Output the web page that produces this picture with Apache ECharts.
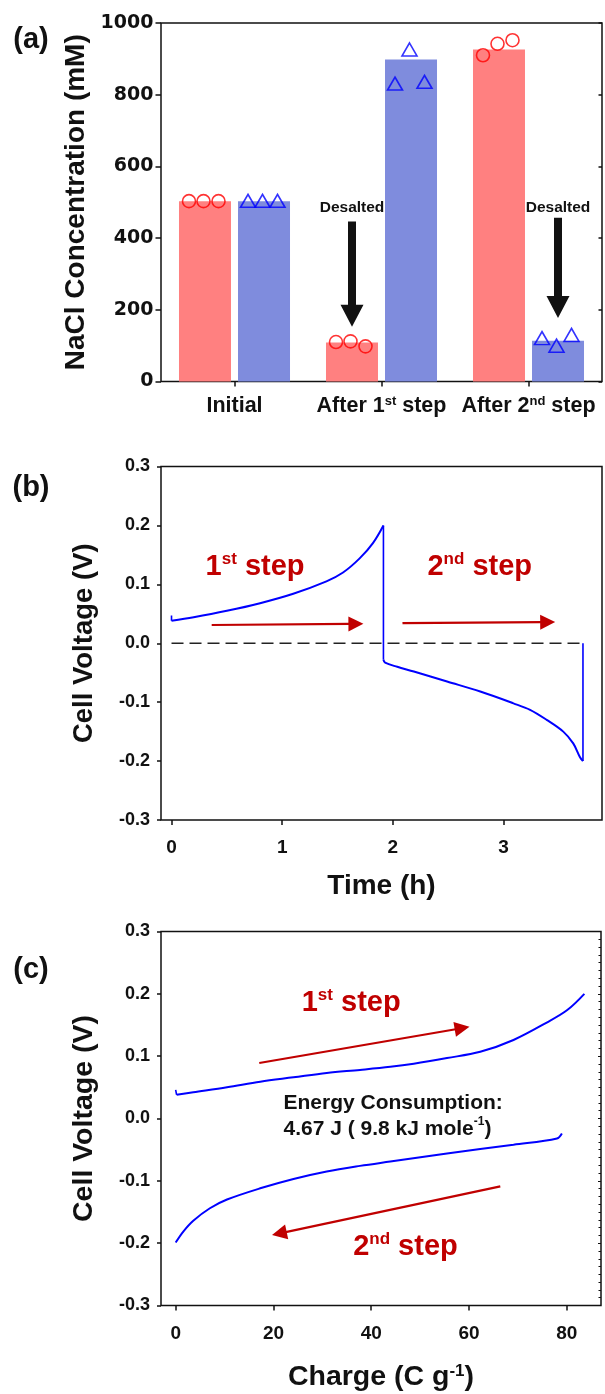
<!DOCTYPE html>
<html lang="en">
<head>
<meta charset="UTF-8">
<title>NaCl concentration and cell voltage</title>
<style>
  html, body { margin: 0; padding: 0; background: #fff; }
  #chart { width: 605px; height: 1394px; }
</style>
</head>
<body>
<div id="chart"></div>
<script src="https://cdn.jsdelivr.net/npm/echarts@6/dist/echarts.min.js"></script>
<script>
// ---- (a) NaCl concentration ----
const stages = ['Initial', 'After 1st step', 'After 2nd step'];
const redBar = [503, 109, 926];
const blueBar = [503, 898, 114];
const redPts = [[503, 503, 503], [110, 112, 98], [910, 942, 952]];
const bluePts = [[504, 504, 504], [831, 926, 836], [121, 100, 130]];

// ---- (b) voltage vs time ----
const time1 = [0, 0.2, 0.5, 0.8, 1.1, 1.4, 1.55, 1.7, 1.82, 1.915];
const volt1 = [0.038, 0.044, 0.055, 0.068, 0.084, 0.105, 0.120, 0.144, 0.170, 0.200];
const time2 = [1.915, 1.93, 2.04, 2.19, 2.49, 2.79, 3.09, 3.24, 3.39, 3.54, 3.63, 3.69, 3.718];
const volt2 = [-0.028, -0.033, -0.040, -0.048, -0.065, -0.082, -0.102, -0.113, -0.130, -0.150, -0.170, -0.193, -0.200];
const timeTicks = [0, 1, 2, 3];

// ---- (c) voltage vs charge ----
const charge1 = [0.2, 3.6, 10.5, 17.3, 24.1, 30.9, 37.7, 43.9, 48.7, 55.5, 62.3, 69.1, 75.9, 80.1, 83.6];
const cvolt1 = [0.038, 0.042, 0.050, 0.059, 0.066, 0.073, 0.078, 0.083, 0.088, 0.097, 0.107, 0.126, 0.154, 0.174, 0.200];
const charge2 = [0, 1.6, 3.6, 7.0, 10.5, 17.3, 24.1, 30.9, 37.7, 43.9, 55.5, 69.1, 78.0, 79.0];
const cvolt2 = [-0.199, -0.181, -0.164, -0.144, -0.130, -0.112, -0.097, -0.085, -0.076, -0.069, -0.056, -0.042, -0.032, -0.024];
const chargeTicks = [0, 20, 40, 60, 80];

const AR = '"Liberation Sans", Arial, Helvetica, sans-serif';
const DV = '"DejaVu Sans", Verdana, sans-serif';
const INK = '#111';
const RED = '#c00000';
const BLUE = '#0000ff';

const BAR_W = 52, BAR_GAP = 7;
const barShift = (BAR_W + BAR_GAP) / 2;
const ptShift = [-16, -1.5, 13.5];

let chart = echarts.init(document.getElementById('chart'), null, { renderer: 'canvas' });

function zip(xs, ys) { return xs.map((x, i) => [x, ys[i]]); }
function supText(s, main, sup) {
  // "After 1st step" -> rich text with superscript suffix
  return s.replace(/^(.*?\d)(st|nd|rd|th)(.*)$/, '{' + main + '|$1}{' + sup + '|$2}{' + main + '|$3}')
    .replace(/^([^{].*)$/, '{' + main + '|$1}');
}
function scatterData(pts, side) {
  let out = [];
  pts.forEach((grp, i) => grp.forEach((v, k) => {
    out.push({ value: [i, v], symbolOffset: [side * barShift + ptShift[k], 0] });
  }));
  return out;
}
function seg(x, y, data, width, extra) {
  return Object.assign({
    type: 'line', xAxisIndex: x, yAxisIndex: y, data: data, showSymbol: false, symbol: 'none',
    lineStyle: { color: BLUE, width: width }, animation: false, silent: true
  }, extra || {});
}

const gridBase = { show: true, borderColor: INK, borderWidth: 1.5, backgroundColor: 'transparent', outerBoundsMode: 'none', containLabel: false };
const tickStyle = { color: INK, width: 1.5 };
const noLine = { show: false, onZero: false };
const numLabel = (size, margin, fam) => ({ color: INK, fontFamily: fam || AR, fontWeight: 'bold', fontSize: size, lineHeight: size + 2, margin: margin });
const oneDec = v => (Math.abs(v) < 1e-9 ? 0 : v).toFixed(1);
const titleStyle = size => ({ color: INK, fontFamily: AR, fontWeight: 'bold', fontSize: size, lineHeight: 30 });

let option = {
  animation: false,
  backgroundColor: '#fff',
  grid: [
    Object.assign({ left: 161, top: 23, right: 3, height: 358.5 }, gridBase),
    Object.assign({ left: 161, top: 466.5, right: 3, height: 353.5 }, gridBase),
    Object.assign({ left: 161, top: 931.5, right: 4, height: 374 }, gridBase)
  ],
  xAxis: [
    {
      type: 'category', gridIndex: 0, data: stages,
      axisLine: noLine,
      axisTick: { show: true, alignWithLabel: true, length: 5, lineStyle: tickStyle },
      axisLabel: {
        interval: 0, margin: 13, color: INK,
        formatter: v => supText(v, 'a', 's'),
        rich: {
          a: { fontFamily: AR, fontWeight: 'bold', fontSize: 21.5, lineHeight: 24, color: INK },
          s: { fontFamily: AR, fontWeight: 'bold', fontSize: 13, lineHeight: 14, color: INK, verticalAlign: 'top' }
        }
      },
      splitLine: { show: false }
    },
    {
      type: 'value', gridIndex: 1, min: -0.095, max: 3.89,
      axisLine: noLine,
      axisTick: { show: true, length: 5, lineStyle: tickStyle, customValues: timeTicks },
      axisLabel: Object.assign(numLabel(19, 17), { customValues: timeTicks }),
      splitLine: { show: false },
      name: 'Time (h)', nameLocation: 'middle', nameGap: 51, nameMoveOverlap: false, nameTextStyle: titleStyle(28)
    },
    {
      type: 'value', gridIndex: 2, min: -3, max: 87,
      axisLine: noLine,
      axisTick: { show: true, length: 5, lineStyle: tickStyle, customValues: chargeTicks },
      axisLabel: Object.assign(numLabel(19, 18), { customValues: chargeTicks }),
      splitLine: { show: false },
      name: '{t|Charge (C g}{s|-1}{t|)}', nameLocation: 'middle', nameGap: 57, nameMoveOverlap: false,
      nameTextStyle: {
        rich: {
          t: { color: INK, fontFamily: AR, fontWeight: 'bold', fontSize: 28.5, lineHeight: 30 },
          s: { color: INK, fontFamily: AR, fontWeight: 'bold', fontSize: 17, lineHeight: 17, verticalAlign: 'top' }
        }
      }
    }
  ],
  yAxis: [
    {
      type: 'value', gridIndex: 0, min: 0, max: 1000, interval: 200,
      axisLine: noLine,
      axisTick: { show: true, length: 5.5, lineStyle: tickStyle },
      axisLabel: Object.assign(numLabel(19, 7.5, DV), { formatter: v => String(v) }),
      splitLine: { show: false },
      name: 'NaCl Concentration (mM)', nameLocation: 'middle', nameGap: 70, nameMoveOverlap: false,
      nameTextStyle: titleStyle(28)
    },
    {
      type: 'value', gridIndex: 0, position: 'right', min: 0, max: 1000, interval: 200,
      axisLine: noLine,
      axisTick: { show: true, inside: true, length: 3.5, lineStyle: tickStyle },
      axisLabel: { show: false }, splitLine: { show: false }
    },
    {
      type: 'value', gridIndex: 1, min: -0.3, max: 0.3, interval: 0.1,
      axisLine: noLine,
      axisTick: { show: true, length: 4, lineStyle: tickStyle },
      axisLabel: Object.assign(numLabel(18, 11), { formatter: oneDec }),
      splitLine: { show: false },
      name: 'Cell Voltage (V)', nameLocation: 'middle', nameGap: 62, nameMoveOverlap: false,
      nameTextStyle: titleStyle(27.5)
    },
    {
      type: 'value', gridIndex: 2, min: -0.3, max: 0.3, interval: 0.1,
      axisLine: noLine,
      axisTick: { show: true, length: 4, lineStyle: tickStyle },
      axisLabel: Object.assign(numLabel(18, 11), { formatter: oneDec }),
      splitLine: { show: false },
      name: 'Cell Voltage (V)', nameLocation: 'middle', nameGap: 62, nameMoveOverlap: false,
      nameTextStyle: titleStyle(28.5)
    },
    {
      type: 'value', gridIndex: 2, position: 'right', min: -0.3, max: 0.3, interval: 0.1,
      axisLine: noLine,
      axisTick: { show: true, inside: true, length: 3, lineStyle: { color: INK, width: 1 } },
      minorTick: { show: true, splitNumber: 8, length: 2.5, lineStyle: { color: INK, width: 1 } },
      axisLabel: { show: false }, splitLine: { show: false }
    }
  ],
  series: [
    {
      type: 'bar', xAxisIndex: 0, yAxisIndex: 0, data: redBar, barWidth: BAR_W,
      barGap: (BAR_GAP / BAR_W * 100).toFixed(1) + '%', itemStyle: { color: '#ff8080' }
    },
    { type: 'bar', xAxisIndex: 0, yAxisIndex: 0, data: blueBar, barWidth: BAR_W, itemStyle: { color: '#7f8cdd' } },
    {
      type: 'scatter', xAxisIndex: 0, yAxisIndex: 0, data: scatterData(redPts, -1),
      symbol: 'circle', symbolSize: 13, z: 5,
      itemStyle: { color: 'rgba(0,0,0,0)', borderColor: '#ff0000', borderWidth: 1.6 }
    },
    {
      type: 'scatter', xAxisIndex: 0, yAxisIndex: 0, data: scatterData(bluePts, 1),
      symbol: 'triangle', symbolSize: [15, 13], z: 5,
      itemStyle: { color: 'rgba(0,0,0,0)', borderColor: '#0000ff', borderWidth: 1.6 }
    },
    // (b)
    seg(1, 2, [[0, 0], [3.718, 0]], 1.5, { lineStyle: { color: '#222', width: 1.5, type: [12, 6] }, z: 1 }),
    seg(1, 2, zip(time1, volt1), 2, { smooth: 0.35 }),
    seg(1, 2, zip(time2, volt2), 2, { smooth: 0.35 }),
    seg(1, 2, [[0, 0.047], [0, 0.038]], 1.6),
    seg(1, 2, [[1.915, 0.200], [1.915, -0.028]], 1.6),
    seg(1, 2, [[3.718, -0.200], [3.718, 0]], 1.6),
    // (c)
    seg(2, 3, zip(charge1, cvolt1), 2, { smooth: 0.35 }),
    seg(2, 3, zip(charge2, cvolt2), 2, { smooth: 0.35 }),
    seg(2, 3, [[0, 0.046], [0.2, 0.038]], 1.6)
  ]
};
chart.setOption(option);

// ---- annotations placed through the axes ----
const axesOf = [
  { xAxisIndex: 0, yAxisIndex: 0 },
  { xAxisIndex: 1, yAxisIndex: 2 },
  { xAxisIndex: 2, yAxisIndex: 3 }
];
const desalted = [
  { stage: 1, side: -1, top: 446, tip: 153, text: 486 },
  { stage: 2, side: 1, top: 457, tip: 177, text: 486 }
];
const stepArrows = [
  { grid: 1, from: [0.363, 0.031], to: [1.734, 0.033] },
  { grid: 1, from: [2.087, 0.034], to: [3.467, 0.036] },
  { grid: 2, from: [17.1, 0.089], to: [60.1, 0.147] },
  { grid: 2, from: [66.4, -0.109], to: [19.7, -0.187] }
];
const stepLabels = [
  { grid: 1, at: [0.755, 0.13], label: '1st step' },
  { grid: 1, at: [2.785, 0.13], label: '2nd step' },
  { grid: 2, at: [35.9, 0.186], label: '1st step' },
  { grid: 2, at: [47.0, -0.2065], label: '2nd step' }
];
const energyNote = { at: [22.05, 0.023], line1: 'Energy Consumption:', line2: '4.67 J ( 9.8 kJ mole', sup: '-1', tail: ')' };

function px(g, x, y) { return chart.convertToPixel(axesOf[g], [x, y]); }

let gfx = [];
['(a)', '(b)', '(c)'].forEach((t, i) => {
  gfx.push({
    type: 'text', x: 31, y: [40, 487.5, 970][i], z: 100,
    style: { text: t, fill: INK, font: 'bold 29px ' + AR, align: 'center', verticalAlign: 'middle' }
  });
});

desalted.forEach(d => {
  const top = px(0, d.stage, d.top), tip = px(0, d.stage, d.tip), lab = px(0, d.stage, d.text);
  const x = top[0] + d.side * barShift;
  const sw = 8, hw = 23, hl = 22, yh = tip[1] - hl;
  gfx.push({
    type: 'polygon', z: 100,
    shape: { points: [[x - sw / 2, top[1]], [x + sw / 2, top[1]], [x + sw / 2, yh], [x + hw / 2, yh], [x, tip[1]], [x - hw / 2, yh], [x - sw / 2, yh]] },
    style: { fill: INK }
  });
  gfx.push({
    type: 'text', x: x, y: lab[1], z: 100,
    style: { text: 'Desalted', fill: INK, font: 'bold 15.5px ' + AR, align: 'center', verticalAlign: 'middle' }
  });
});

stepArrows.forEach(a => {
  const p0 = px(a.grid, a.from[0], a.from[1]), p1 = px(a.grid, a.to[0], a.to[1]);
  const dx = p1[0] - p0[0], dy = p1[1] - p0[1], len = Math.hypot(dx, dy);
  const ux = dx / len, uy = dy / len, L = 15, W = 15;
  const bx = p1[0] - ux * L, by = p1[1] - uy * L;
  gfx.push({ type: 'line', z: 100, shape: { x1: p0[0], y1: p0[1], x2: bx + ux, y2: by + uy }, style: { stroke: RED, lineWidth: 2.2 } });
  gfx.push({
    type: 'polygon', z: 100,
    shape: { points: [[p1[0], p1[1]], [bx - uy * W / 2, by + ux * W / 2], [bx + uy * W / 2, by - ux * W / 2]] },
    style: { fill: RED }
  });
});

stepLabels.forEach(s => {
  const p = px(s.grid, s.at[0], s.at[1]);
  gfx.push({
    type: 'text', x: p[0], y: p[1], z: 100,
    style: {
      text: supText(s.label, 'm', 's'), align: 'center', verticalAlign: 'middle',
      rich: {
        m: { fill: RED, font: 'bold 29px ' + AR, lineHeight: 32 },
        s: { fill: RED, font: 'bold 17px ' + AR, lineHeight: 17, verticalAlign: 'top' }
      }
    }
  });
});

{
  const p = px(2, energyNote.at[0], energyNote.at[1]);
  gfx.push({
    type: 'text', x: p[0], y: p[1] + 12, z: 100,
    style: {
      text: '{e|' + energyNote.line1 + '}\n{e|' + energyNote.line2 + '}{s|' + energyNote.sup + '}{e|' + energyNote.tail + '}',
      align: 'left', verticalAlign: 'middle',
      rich: {
        e: { fill: INK, font: 'bold 21px ' + AR, lineHeight: 26 },
        s: { fill: INK, font: 'bold 12px ' + AR, lineHeight: 12, verticalAlign: 'top' }
      }
    }
  });
}

chart.setOption({ graphic: gfx });
</script>
</body>
</html>
